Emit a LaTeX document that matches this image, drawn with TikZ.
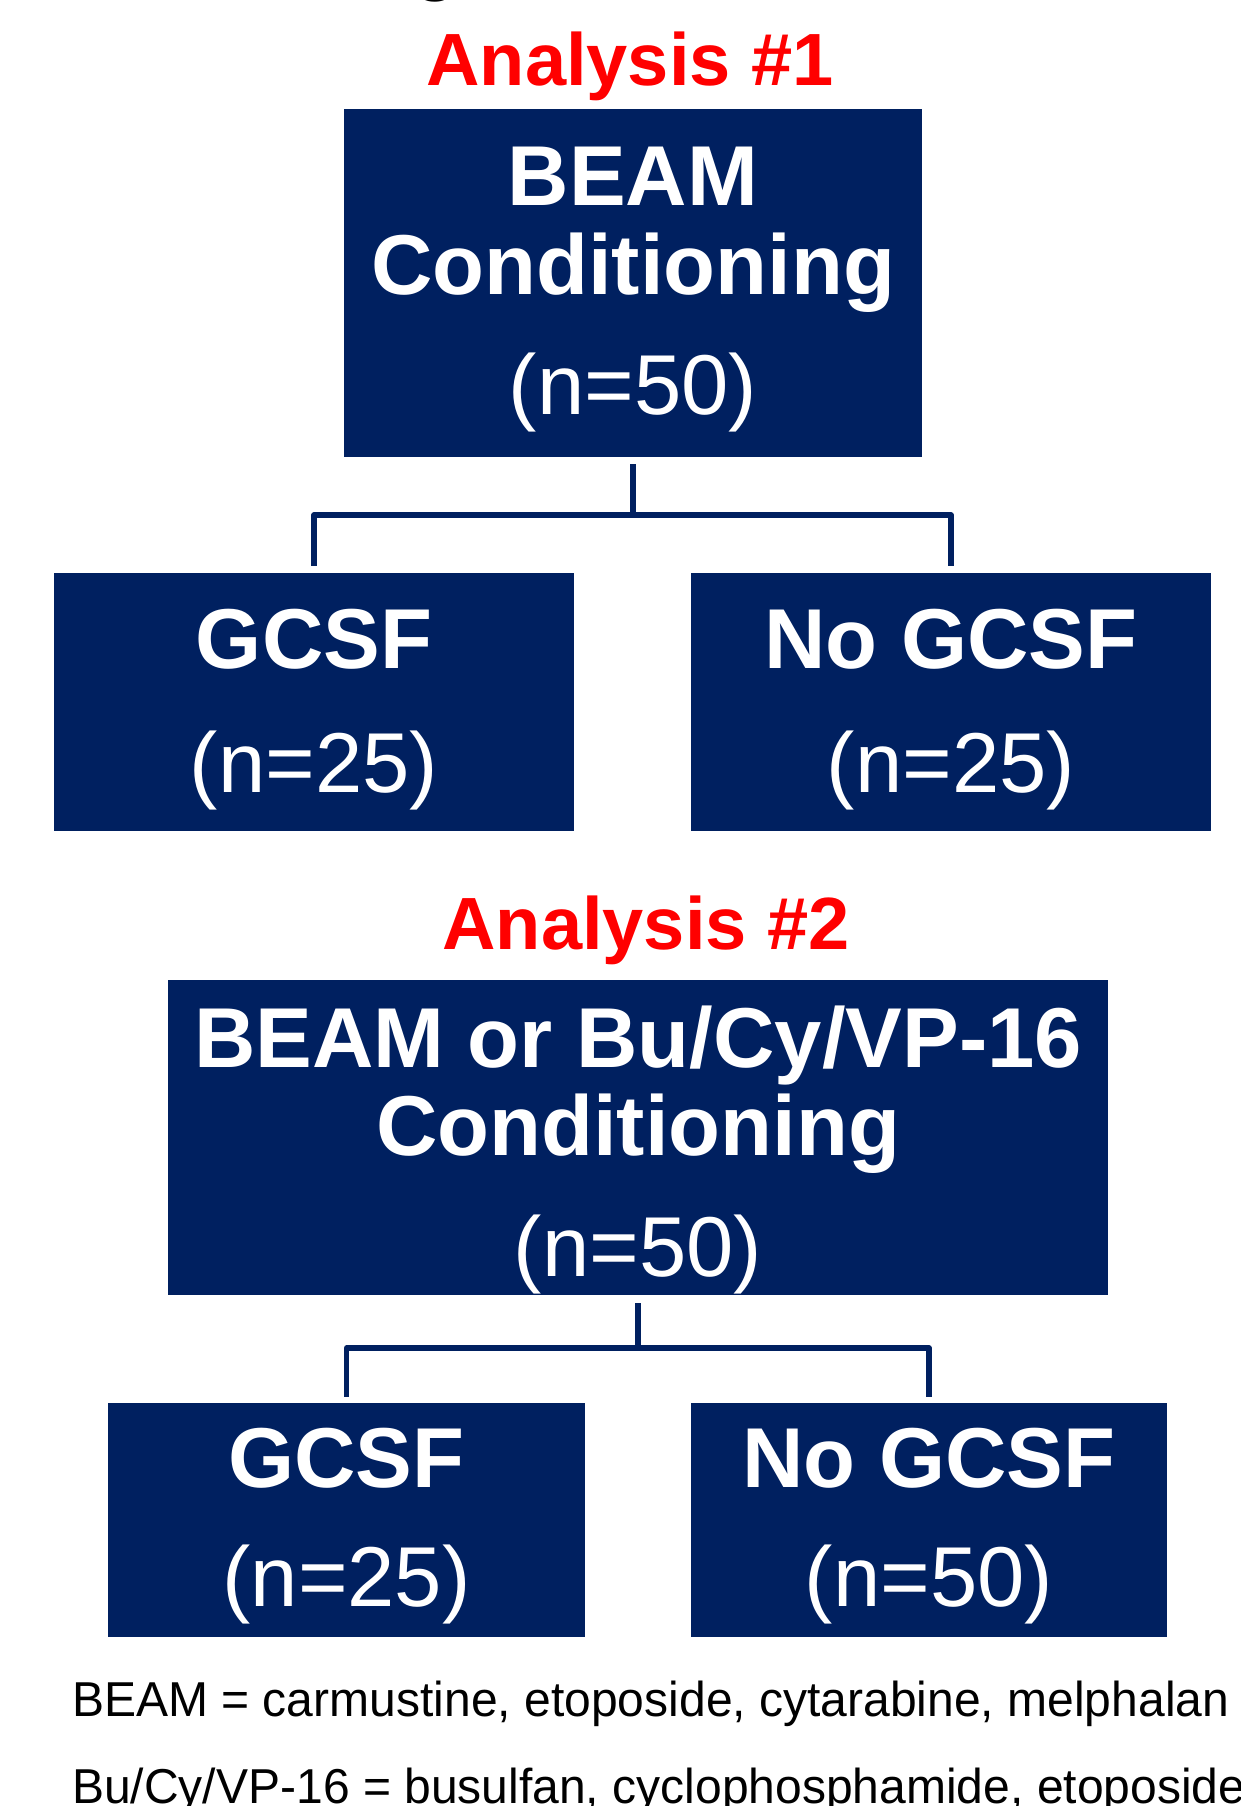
\documentclass[tikz,border=0pt]{standalone}
\usepackage{fontspec}
\usepackage{graphicx}
\setmainfont{Liberation Sans}
\definecolor{navy}{HTML}{002060}
\definecolor{redtxt}{HTML}{FF0000}
\tikzset{
  box/.style={fill=navy, draw=none, inner sep=0pt, rectangle},
  boldtxt/.style={text=white, anchor=base, inner sep=0pt, font=\fontsize{85}{89}\bfseries\selectfont},
  regtxt/.style={text=white, anchor=base, inner sep=0pt, font=\fontsize{85}{89}\selectfont},
  redtitle/.style={text=redtxt, anchor=base, inner sep=0pt, font=\fontsize{74}{80}\bfseries\selectfont},
  foot/.style={text=black, anchor=base west, inner sep=0pt, font=\fontsize{49}{55}\selectfont},
  conn/.style={draw=navy, line width=5.5pt, line join=round}
}
\begin{document}
\begin{tikzpicture}[x=1pt,y=-1pt]
\useasboundingbox (0,0) rectangle (1240,1806);
\fill[white] (0,0) rectangle (1240,1806);

% fragment of text above
\node[anchor=base, inner sep=0pt, font=\fontsize{74}{80}\bfseries\selectfont] (frag) at (436,-13) {g};

% Analysis 1
\node[redtitle] (a1) at (630,86) {Analysis \#1};
\node[box, minimum width=578pt, minimum height=348pt] (b1) at (633,283) {};
\node[boldtxt] (b1t1) at (633,205) {BEAM};
\node[boldtxt] (b1t2) at (633,294) {Conditioning};
\node[regtxt] (b1t3) at (633,414) {(n=50)};

\node[box, minimum width=520pt, minimum height=258pt] (g1) at (314,702) {};
\node[boldtxt] (g1t1) at (314,668) {GCSF};
\node[regtxt] (g1t2) at (314,792) {(n=25)};

\node[box, minimum width=520pt, minimum height=258pt] (n1) at (951,702) {};
\node[boldtxt] (n1t1) at (951,668) {No GCSF};
\node[regtxt] (n1t2) at (951,792) {(n=25)};

\draw[conn, shorten <=7pt, shorten >=7pt] (b1.south) -- ++(0,58) -| (g1.north);
\draw[conn, shorten <=7pt, shorten >=7pt] (b1.south) -- ++(0,58) -| (n1.north);

% Analysis 2
\node[redtitle] (a2) at (646,949) {Analysis \#2};
\node[box, minimum width=940pt, minimum height=315pt] (b2) at (638,1137.5) {};
\node[boldtxt] (b2t1) at (638,1067) {BEAM or Bu/Cy/VP-16};
\node[boldtxt] (b2t2) at (638,1155) {Conditioning};
\node[regtxt] (b2t3) at (638,1276) {(n=50)};

\node[box, minimum width=477pt, minimum height=234pt] (g2) at (346.5,1520) {};
\node[boldtxt] (g2t1) at (346.5,1487) {GCSF};
\node[regtxt] (g2t2) at (346.5,1606) {(n=25)};

\node[box, minimum width=476pt, minimum height=234pt] (n2) at (929,1520) {};
\node[boldtxt] (n2t1) at (929,1487) {No GCSF};
\node[regtxt] (n2t2) at (929,1606) {(n=50)};

\draw[conn, shorten <=8pt, shorten >=6pt] (b2.south) -- ++(0,53) -| (g2.north);
\draw[conn, shorten <=8pt, shorten >=6pt] (b2.south) -- ++(0,53) -| (n2.north);

% footnotes
\node[foot] (f1) at (72,1716) {\scalebox{0.98}[1]{BEAM = carmustine, etoposide, cytarabine, melphalan}};
\node[foot] (f2) at (72,1803) {\scalebox{0.98}[1]{Bu/Cy/VP-16 = busulfan, cyclophosphamide, etoposide}};
\end{tikzpicture}
\end{document}
